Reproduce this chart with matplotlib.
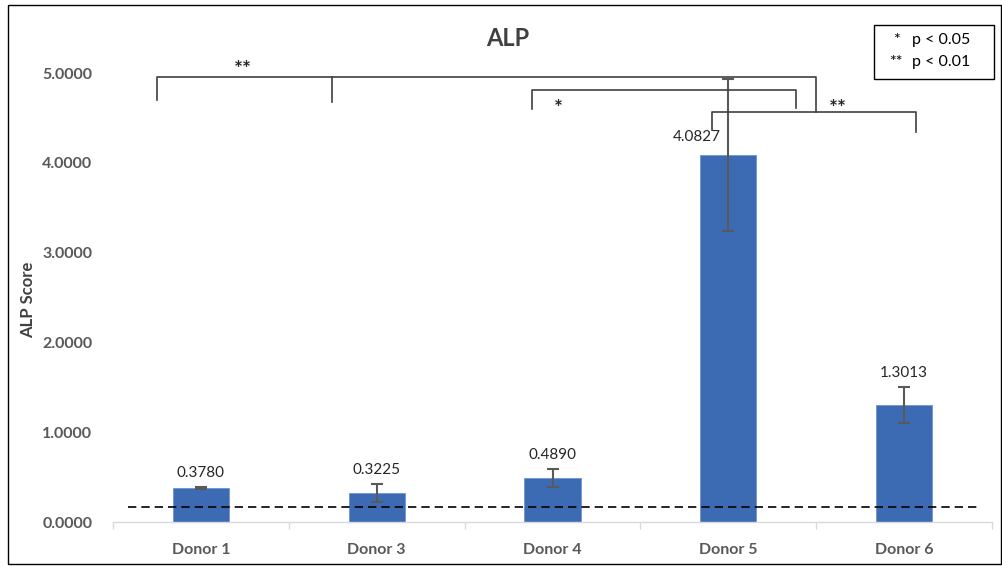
import matplotlib
matplotlib.use("Agg")
import matplotlib.pyplot as plt
from matplotlib.patches import Rectangle

# data
donors = ["Donor 1", "Donor 3", "Donor 4", "Donor 5", "Donor 6"]
scores = [0.3780, 0.3225, 0.4890, 4.0827, 1.3013]
errors = [0.015, 0.10, 0.10, 0.846, 0.20]
baseline = 0.167
yticks = [0.0, 1.0, 2.0, 3.0, 4.0, 5.0]

# significance brackets: (x left, x right, y top, left leg bottom, right leg bottom)
brackets = [
    (-0.252, 3.498, 4.961, 4.699, 4.569),
    (1.881, 3.383, 4.811, 4.599, 4.610),
    (2.905, 4.065, 4.569, 4.365, 4.343),
]
extra_legs = [(0.745, 4.961, 4.677)]
stars = [("**", 0.239, 5.03), ("*", 2.031, 4.60), ("**", 3.623, 4.60)]

plt.rcParams['font.family'] = ['Lato', 'DejaVu Sans']
grey = '#595959'

fig = plt.figure(figsize=(10.03, 5.66), dpi=100)
ax = fig.add_axes([113 / 1003, 44 / 566, 879 / 1003, 5.6 * 89.8 / 566])

x = list(range(len(donors)))
ax.bar(x, scores, width=0.32, color='#3D6BB3', edgecolor='#6E94D0', linewidth=0.6, zorder=2)
ax.errorbar(x, scores, yerr=errors, fmt='none', ecolor=grey, elinewidth=1.5,
            capsize=4, capthick=1.5, zorder=3)

ax.hlines(baseline, -0.415, 4.43, colors='black', linestyles=(0, (5, 3)), linewidth=1.2, zorder=4)

for i, (v, e) in enumerate(zip(scores, errors)):
    if i == 3:
        # this label sits at the bar top, moved to the left
        ax.annotate("{:.4f}".format(v), (i, v), xytext=(-23, 13), textcoords='offset points',
                    ha='center', va='center', fontsize=11, color='#262626')
    else:
        ax.annotate("{:.4f}".format(v), (i, v + e), xytext=(0, 10), textcoords='offset points',
                    ha='center', va='center', fontsize=11, color='#262626')

for xl, xr, yt, yl, yr in brackets:
    ax.plot([xl, xl, xr, xr], [yl, yt, yt, yr], color='#404040', linewidth=1.2, zorder=5)
for xx, y0, y1 in extra_legs:
    ax.plot([xx, xx], [y0, y1], color='#404040', linewidth=1.2, zorder=5)
for s, sx, sy in stars:
    ax.text(sx, sy, s, ha='center', va='center', fontsize=15, fontweight='bold', color='#262626')

ax.set_xlim(-0.5, 4.5)
ax.set_ylim(0, 5.6)
ax.set_xticks(x)
ax.set_xticklabels(donors, fontsize=11.5, fontweight='bold', color=grey)
ax.set_xticks([i - 0.5 for i in range(len(donors) + 1)], minor=True)
ax.tick_params(axis='x', which='major', length=0, pad=15)
ax.tick_params(axis='x', which='minor', length=5, color='#d9d9d9', width=1)
ax.set_yticks(yticks)
ax.set_yticklabels(["{:.4f}".format(t) for t in yticks], fontsize=11.5, fontweight='bold', color=grey)
ax.tick_params(axis='y', length=0, pad=15)
for side in ['top', 'right', 'left']:
    ax.spines[side].set_visible(False)
ax.spines['bottom'].set_color('#d9d9d9')
ax.spines['bottom'].set_linewidth(1)

fig.text(28 / 1003, 1 - 300 / 566, "ALP Score", rotation=90, ha='center', va='center',
         fontsize=12, fontweight='bold', color='#404040')
fig.text(508 / 1003, 1 - 38 / 566, "ALP", ha='center', va='center',
         fontsize=17, fontweight='bold', color='#404040')

# p-value key
fig.patches.append(Rectangle((874 / 1003, 1 - 79 / 566), 120 / 1003, 54 / 566,
                             transform=fig.transFigure, fill=False, edgecolor='black', linewidth=1))
fig.text(896 / 1003, 1 - 40 / 566, "*", ha='center', va='center', fontsize=11.5, color='black')
fig.text(896 / 1003, 1 - 62 / 566, "**", ha='center', va='center', fontsize=11.5, color='black')
fig.text(912 / 1003, 1 - 40 / 566, "p < 0.05", ha='left', va='center', fontsize=11.5, color='black')
fig.text(912 / 1003, 1 - 62 / 566, "p < 0.01", ha='left', va='center', fontsize=11.5, color='black')

# outer frame
fig.patches.append(Rectangle((8 / 1003, 2 / 566), 993 / 1003, 559 / 566,
                             transform=fig.transFigure, fill=False, edgecolor='black', linewidth=1))

fig.savefig("out.png", dpi=100)
